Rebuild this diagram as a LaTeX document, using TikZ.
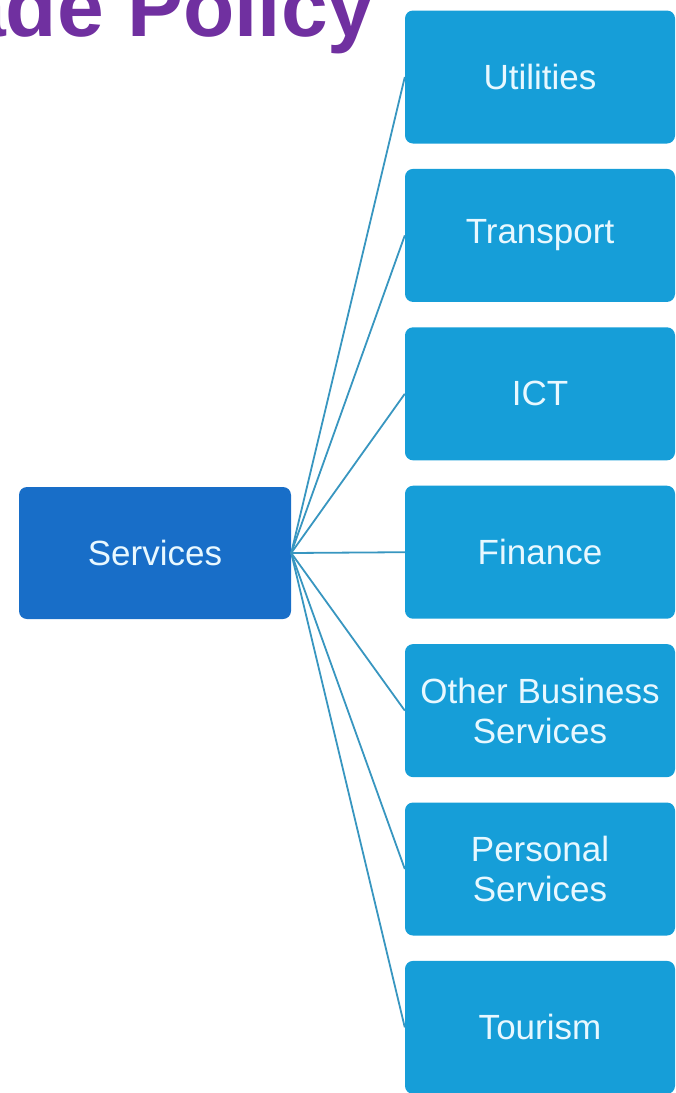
\documentclass[tikz,border=0pt]{standalone}
\usepackage{fontspec}
\setmainfont{Liberation Sans}
\usetikzlibrary{positioning}

\definecolor{servblue}{RGB}{24,110,200}
\definecolor{sectblue}{RGB}{22,158,216}
\definecolor{linkblue}{RGB}{56,150,192}
\definecolor{titlepurple}{RGB}{112,48,160}
\definecolor{boxtext}{RGB}{232,248,255}

\begin{document}
\begin{tikzpicture}[x=1pt, y=-1pt,
    mainbox/.style={fill=servblue, rounded corners=8pt, minimum width=272pt,
        minimum height=132pt, inner sep=0pt, text=boxtext, align=center,
        font=\fontsize{35}{40}\selectfont},
    sectbox/.style={mainbox, fill=sectblue, minimum width=270pt, minimum height=133pt},
    link/.style={draw=linkblue, line width=1.8pt}]
            % page
            \useasboundingbox (0,0) rectangle (676,1093);
            \clip (0,0) rectangle (676,1093);
            % title, cut at the edge
            \node[anchor=base west, inner sep=0pt, text=titlepurple,
                  font=\fontsize{84}{86}\selectfont\bfseries] (title) at (-41,36) {ade Policy};
            % boxes
            \node[mainbox] (services) at (155,553) {Services};
            \foreach \name/\txt [count=\i] in {util/Utilities, trans/Transport, ict/ICT,
                    fin/Finance, obs/Other Business\\Services, pers/Personal\\Services, tour/Tourism}
                \node[sectbox] (\name) at (540,{77+158.4*(\i-1)}) {\txt};
            % links
            \foreach \name in {util, trans, ict, fin, obs, pers, tour}
                \draw[link] (services.east) -- (\name.west);
        \end{tikzpicture}
\end{document}
